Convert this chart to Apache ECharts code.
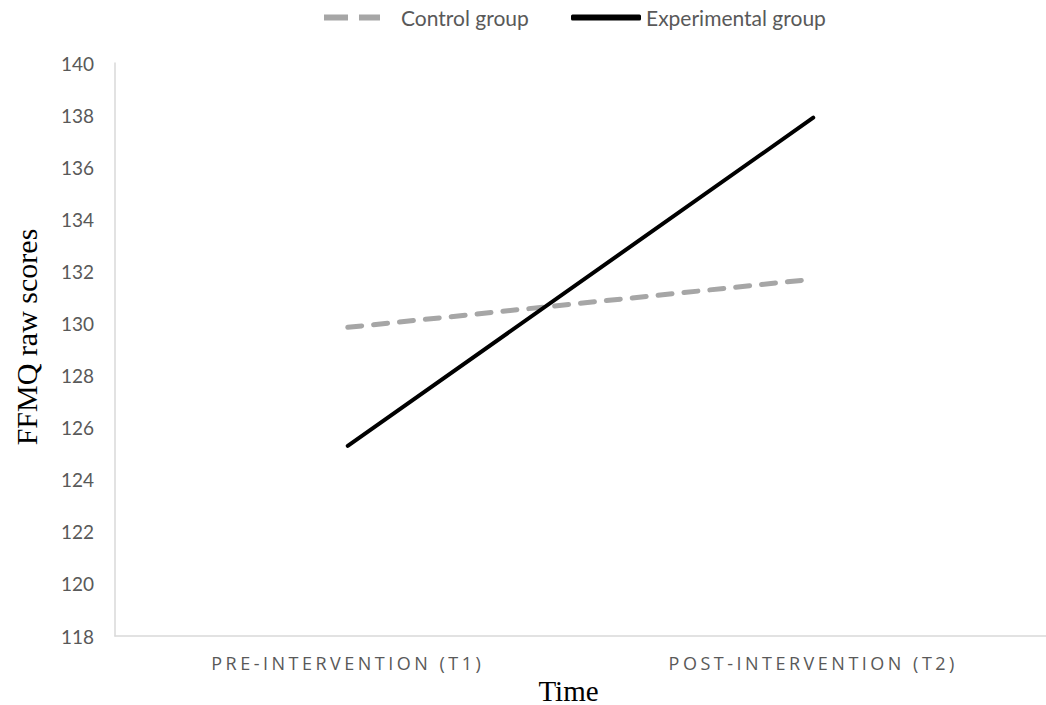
<!DOCTYPE html>
<html><head><meta charset="utf-8">
<script src="https://cdn.jsdelivr.net/npm/echarts@6/dist/echarts.min.js"></script>
<style>
html,body{margin:0;padding:0;background:#fff;}
#c{width:1046px;height:705px;}
#c svg text[style*="Open Sans"]{letter-spacing:3.5px;}
</style></head><body>
<div id="c"></div>
<script>
const categories = ['PRE-INTERVENTION (T1)', 'POST-INTERVENTION (T2)'];
const controlGroup = [129.85, 131.7];
const experimentalGroup = [125.3, 137.9];
const yTicks = {min: 118, max: 140, interval: 2};

const chart = echarts.init(document.getElementById('c'), null, {renderer: 'svg'});
const legendText = {fontFamily: 'Lato', fontSize: 21, color: '#595959'};
chart.setOption({
  animation: false,
  backgroundColor: '#fff',
  legend: [
    {top: 2, left: 319, itemWidth: 72, itemHeight: 6, textStyle: legendText,
     data: [{name: 'Control group', icon: 'path://M0,0H24V6H0Z M35,0H56V6H35Z M72,2.99H72.01V3H72Z', itemStyle: {color: '#a6a6a6'}}]},
    {top: 2, left: 566, itemWidth: 70, itemHeight: 6, textStyle: legendText,
     data: [{name: 'Experimental group', icon: 'roundRect', itemStyle: {color: '#000'}}]}
  ],
  grid: {left: 115, right: 0, top: 63, bottom: 69, outerBoundsMode: 'none', containLabel: false},
  xAxis: {
    type: 'category', data: categories, boundaryGap: true,
    axisLine: {lineStyle: {color: '#d9d9d9', width: 1.5}},
    axisTick: {show: false},
    axisLabel: {margin: 18, fontFamily: 'Open Sans', fontSize: 18, color: '#595959'},
    name: 'Time', nameLocation: 'middle', nameGap: 32,
    nameTextStyle: {fontFamily: 'Liberation Serif', fontSize: 29, color: '#000', padding: [0, 24, 0, 0]}
  },
  yAxis: {
    type: 'value', min: yTicks.min, max: yTicks.max, interval: yTicks.interval,
    axisLine: {show: true, lineStyle: {color: '#d9d9d9', width: 1.5}},
    axisTick: {show: false},
    splitLine: {show: false},
    axisLabel: {margin: 21, fontFamily: 'Lato', fontSize: 19, color: '#595959'},
    name: 'FFMQ raw scores', nameLocation: 'middle', nameGap: 74,
    nameTextStyle: {fontFamily: 'Liberation Serif', fontSize: 30, color: '#000', padding: [0, 0, 0, 25]}
  },
  series: [
    {name: 'Control group', type: 'line', data: controlGroup, symbol: 'none',
     lineStyle: {color: '#a6a6a6', width: 5, type: [14, 12], cap: 'round'}, itemStyle: {color: '#a6a6a6'}},
    {name: 'Experimental group', type: 'line', data: experimentalGroup, symbol: 'none',
     lineStyle: {color: '#000', width: 4, cap: 'round'}, itemStyle: {color: '#000'}}
  ]
});
</script>
</body></html>
